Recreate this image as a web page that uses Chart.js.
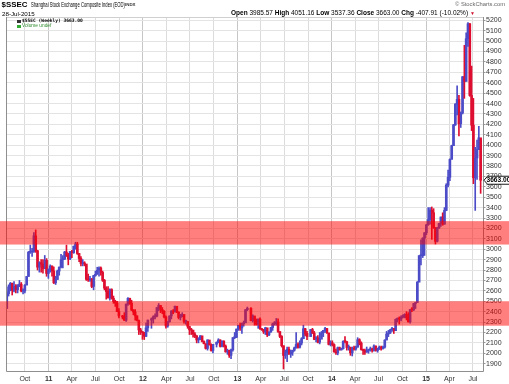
<!DOCTYPE html>
<html><head><meta charset="utf-8">
<script src="https://cdn.jsdelivr.net/npm/chart.js@4.4.0/dist/chart.umd.min.js"></script>
<style>
html,body{margin:0;padding:0;background:#fff;}
#wrap{position:relative;width:509px;height:384px;overflow:hidden;font-family:"Liberation Sans",Arial,sans-serif;}
canvas{position:absolute;left:0;top:0;}
.t{position:absolute;white-space:nowrap;color:#000;line-height:1;}
.b{font-weight:bold;}
</style></head><body>
<div id="wrap">
<canvas id="c" width="509" height="384"></canvas>
<div class="t b" style="left:1.5px;top:0.5px;font-size:7.9px;">$SSEC</div>
<div class="t" style="left:31px;top:2px;font-size:6.6px;transform:scaleX(0.63);transform-origin:0 0;">Shanghai Stock Exchange Composite Index (EOD)</div>
<div class="t b" style="left:125px;top:3.4px;font-size:4.4px;color:#333;">INDX</div>
<div class="t" style="left:455px;top:1.5px;font-size:5.8px;color:#666;">© StockCharts.com</div>
<div class="t" style="left:2px;top:10.5px;font-size:6.2px;">28-Jul-2015</div>
<div class="t" style="left:231px;top:10.3px;font-size:6.5px;"><span class="b">Open</span> 3985.57 <span class="b">High</span> 4051.16 <span class="b">Low</span> 3537.36 <span class="b">Close</span> 3663.00 <span class="b">Chg</span> -407.91 (-10.02%) <span style="color:#d0102a;font-size:5px;">▼</span></div>
<div class="t" style="left:17px;top:19.5px;width:4px;height:3px;background:#333;"></div>
<div class="t b" style="left:22px;top:18.6px;font-size:4.6px;font-family:'DejaVu Sans Mono',monospace;">$SSEC (Weekly) 3663.00</div>
<div class="t" style="left:17px;top:24.5px;width:4px;height:3px;background:#3a3;"></div>
<div class="t" style="left:22px;top:23.6px;font-size:4.8px;color:#2e8b2e;">Volume undef</div>
</div>
<script>
// ---- data (weekly bars, Fridays starting 2010-07-23; null = market closed all week)
const firstWeek = '2010-07-23';
const prevCloseBeforeStart = 2430;
const highs = [
2593,2658,2681,2675,2690,2660,2660,2700,2680,2620,2661,2738,2979,3040,3008,3160,3186,2990,2880,2900,2900,2940,2910,2810,
2850,2840,2830,2740,2800,2830,2950,2940,2980,3040,2960,2980,2990,3030,3067,3067,2960,2930,2900,2880,2840,2760,2740,2720,2750,2790,2827,2830,2830,2790,2710,2640,2640,2620,2620,2550,2510,2500,2430,null,2365,2390,2473,2536,2530,2510,2420,2420,2360,2320,2240,2210,
2200,2290,2320,null,2340,2360,2380,2440,2478,2460,2440,2410,2360,2306,2360,2410,2420,2453,2450,2400,2375,2390,2330,2320,2300,2250,2240,2200,2200,2170,2150,2170,2150,2120,2090,2130,2120,2090,2086,null,2110,2140,2130,2120,2120,2080,2040,2030,2040,2150,2200,2233,
2270,2290,2290,2310,2420,2444,null,2440,2370,2340,2330,2330,2340,2240,2230,2250,2240,2205,2250,2290,2305,2335,2330,2200,2170,2070,2030,2060,2060,2030,2030,2060,2198,2100,2120,2150,2270,2240,2210,null,2230,2240,2210,2160,2170,2200,2210,2220,2250,2240,2190,2120,
2120,2090,2040,2060,2060,2050,2120,2160,2110,2080,2060,2060,2070,2070,2150,2140,2110,2040,2040,2060,2040,2060,2050,2080,2070,2050,2070,2070,2070,2130,2210,2220,2230,2250,2240,2330,2340,2350,2360,2370,2380,2400,2390,2420,2440,2480,2490,2690,2940,3090,3110,3160,
3240,3400,3400,3406,3390,3180,3210,3250,3310,3350,3400,3630,3760,3870,4000,4200,4400,4570,4480,4320,4660,4960,5080,5178,5170,4760,4450,3980,4050,4180,4051];
const lows = [
2470,2550,2600,2560,2590,2580,2580,2640,2590,2570,2580,2660,2740,2960,2930,2970,2970,2800,2780,2780,2770,2830,2740,2720,
2780,2740,2670,2661,2710,2750,2820,2820,2900,2930,2850,2900,2920,2960,3000,2950,2880,2840,2840,2840,2700,2690,2690,2630,2610,2740,2760,2740,2750,2690,2610,2520,2530,2510,2520,2480,2450,2400,2340,null,2330,2316,2307,2460,2470,2410,2370,2319,2310,2180,2180,2134,
2132,2160,2210,null,2240,2290,2330,2350,2410,2390,2380,2340,2242,2250,2300,2330,2380,2400,2390,2330,2320,2360,2290,2280,2240,2180,2180,2155,2150,2100,2100,2130,2110,2090,2040,2030,2080,2020,2004,null,2060,2100,2060,2060,2060,2010,1990,1960,1949,2020,2140,2150,
2220,2220,2190,2260,2300,2410,null,2310,2300,2270,2270,2240,2230,2220,2190,2180,2160,2170,2200,2220,2270,2270,2200,2150,2060,1849,1950,1920,1990,1960,1980,2020,2050,2050,2050,2080,2140,2170,2130,null,2170,2190,2130,2110,2100,2090,2160,2160,2200,2190,2080,2070,
2070,2010,1990,1985,2030,2030,2040,2100,2030,2030,1980,1974,2030,2030,2060,2080,2030,1990,1990,2010,2000,2020,2010,2020,2020,2010,2040,2030,2040,2050,2130,2160,2190,2210,2190,2220,2300,2280,2310,2340,2340,2320,2300,2290,2400,2410,2430,2490,2690,2850,2920,2940,
3140,3230,3240,3095,3200,3050,3070,3200,3220,3230,3240,3370,3600,3660,3870,4000,4190,4290,4090,4170,4300,4450,4620,4950,4470,4140,3630,3373,3670,3960,3537];
const closes = [
2572,2638,2672,2605,2643,2611,2655,2664,2598,2599,2655,2738,2971,2975,2978,3129,2985,2828,2871,2857,2812,2893,2767,2808,
2838,2791,2677,2709,2790,2828,2899,2905,2973,2944,2906,2977,2967,3030,3050,2959,2911,2863,2865,2858,2710,2705,2705,2642,2746,2759,2797,2820,2777,2701,2626,2593,2534,2612,2528,2498,2482,2400,2359,null,2348,2317,2473,2528,2481,2416,2397,2360,2315,2224,2205,2199,
2163,2244,2319,null,2331,2351,2357,2439,2460,2420,2404,2349,2262,2302,2359,2406,2396,2452,2395,2344,2350,2373,2306,2306,2260,2225,2223,2185,2168,2128,2133,2168,2114,2092,2047,2128,2080,2027,2086,null,2105,2128,2067,2117,2069,2014,2027,1980,2033,2150,2153,2233,
2269,2243,2284,2292,2419,2432,null,2314,2359,2318,2278,2328,2236,2226,2206,2245,2177,2205,2247,2283,2288,2301,2210,2162,2073,1979,2007,2039,1992,2010,2029,2052,2085,2057,2098,2140,2236,2191,2160,null,2228,2194,2133,2149,2106,2135,2197,2220,2238,2196,2085,2101,
2083,2013,2004,2054,2033,2044,2115,2113,2056,2057,2004,2047,2041,2058,2130,2098,2036,2027,2011,2026,2034,2039,2029,2070,2026,2036,2059,2047,2059,2127,2185,2194,2226,2240,2217,2326,2331,2329,2347,2364,2374,2341,2302,2420,2418,2478,2487,2683,2938,2938,3108,3158,
3234,3285,3376,3351,3210,3076,3203,3247,3310,3241,3373,3617,3691,3863,3995,4195,4394,4441,4206,4309,4658,4612,5024,5167,4478,4192,3687,3877,3957,4071,3663];

const quarterTicks = ['2010-10-01','2011-01-01','2011-04-01','2011-07-01','2011-10-01','2012-01-01','2012-04-01','2012-07-01','2012-10-01','2013-01-01','2013-04-01','2013-07-01','2013-10-01','2014-01-01','2014-04-01','2014-07-01','2014-10-01','2015-01-01','2015-04-01','2015-07-01'];
const quarterLabels = ['Oct','11','Apr','Jul','Oct','12','Apr','Jul','Oct','13','Apr','Jul','Oct','14','Apr','Jul','Oct','15','Apr','Jul'];
const yTicks = [1900,2000,2100,2200,2300,2400,2500,2600,2700,2800,2900,3000,3100,3200,3300,3400,3500,3600,3700,3800,3900,4000,4100,4200,4300,4400,4500,4600,4700,4800,4900,5000,5100,5200];
const bandLows = [3045, 2265];
const bandHighs = [3270, 2500];
const xStart = '2010-07-20', xEnd = '2015-08-13';

// ---- build
const dayNum = s => Date.UTC(+s.slice(0,4), +s.slice(5,7)-1, +s.slice(8,10)) / 86400000;
const d0 = dayNum(firstWeek);
const UP = 'rgb(76,76,200)', DOWN = 'rgb(222,14,48)';
const wick = [], body = [], cols = [];
let prev = prevCloseBeforeStart;
for (let i = 0; i < closes.length; i++) {
  if (closes[i] == null) continue;
  const x = d0 + 7 * i, c = closes[i];
  wick.push({x, y: [lows[i], highs[i]]});
  body.push({x, y: [Math.min(prev, c), Math.max(prev, c)]});
  cols.push(c >= prev ? UP : DOWN);
  prev = c;
}
const lastClose = closes[closes.length - 1];
const qVals = quarterTicks.map(dayNum);
const isYear = v => /^\d/.test(quarterLabels[qVals.indexOf(v)] || '');
const FONT = '"Liberation Sans", Arial, sans-serif';

const overlay = {
  id: 'overlay',
  afterDraw(chart) {
    const {ctx, chartArea: a, scales: {y}} = chart;
    ctx.save();
    ctx.strokeStyle = '#d0d0d0'; ctx.lineWidth = 1;
    ctx.beginPath(); ctx.moveTo(a.left, a.top + 0.5); ctx.lineTo(a.right, a.top + 0.5); ctx.stroke();
    ctx.strokeStyle = '#8f8f8f';
    ctx.beginPath();
    ctx.moveTo(a.left + 0.5, a.top); ctx.lineTo(a.left + 0.5, a.bottom - 0.5);
    ctx.lineTo(a.right - 0.5, a.bottom - 0.5); ctx.lineTo(a.right - 0.5, a.top);
    ctx.stroke();
    const py = y.getPixelForValue(lastClose);
    ctx.beginPath();
    ctx.moveTo(a.right, py); ctx.lineTo(a.right + 3.5, py - 4); ctx.lineTo(509.5, py - 4);
    ctx.lineTo(509.5, py + 4); ctx.lineTo(a.right + 3.5, py + 4); ctx.closePath();
    ctx.fillStyle = '#fff'; ctx.fill();
    ctx.strokeStyle = '#000'; ctx.lineWidth = 0.9; ctx.stroke();
    ctx.fillStyle = '#000'; ctx.font = 'bold 6.6px ' + FONT;
    ctx.textBaseline = 'middle'; ctx.textAlign = 'left';
    ctx.fillText(lastClose.toFixed(2), a.right + 2.5, py + 0.3);
    ctx.fillStyle = 'rgba(255,0,0,0.5)';
    for (let i = 0; i < bandLows.length; i++) {
      const t = y.getPixelForValue(bandHighs[i]), b = y.getPixelForValue(bandLows[i]);
      ctx.fillRect(0, t, chart.width, b - t);
    }
    ctx.restore();
  }
};

new Chart(document.getElementById('c'), {
  type: 'bar',
  data: { datasets: [
    { data: wick, backgroundColor: cols, barThickness: 1, grouped: false, borderWidth: 0 },
    { data: body, backgroundColor: cols, barThickness: 2, grouped: false, borderWidth: 0, minBarLength: 1 }
  ]},
  options: {
    responsive: false, animation: false, devicePixelRatio: 1,
    layout: { padding: { left: 6, top: 17, right: 0, bottom: 0 } },
    plugins: { legend: { display: false }, tooltip: { enabled: false } },
    scales: {
      x: {
        type: 'linear', offset: false, min: dayNum(xStart), max: dayNum(xEnd),
        afterBuildTicks: s => { s.ticks = qVals.map(v => ({value: v})); },
        afterFit: s => { s.height = 12; },
        border: { display: false },
        grid: { offset: false, drawTicks: false,
          color: c => (c.tick && isYear(c.tick.value)) ? '#c6c6c6' : '#dcdcdc' },
        ticks: {
          autoSkip: false, maxRotation: 0, padding: 3, color: '#333',
          callback: (v) => quarterLabels[qVals.indexOf(v)],
          font: c => ({ family: FONT, size: 7, weight: (c.tick && isYear(c.tick.value)) ? 'bold' : 'normal' })
        }
      },
      y: {
        position: 'right', min: 1820, max: 5232,
        afterBuildTicks: s => { s.ticks = yTicks.map(v => ({value: v})); },
        afterFit: s => { s.width = 25; },
        border: { display: false },
        grid: { color: '#e4e4e4', tickLength: 1.5, tickColor: '#999' },
        ticks: { autoSkip: false, padding: 0.5, color: '#333', font: { family: FONT, size: 7 }, callback: v => String(v) }
      }
    }
  },
  plugins: [overlay]
});
</script>
</body></html>
